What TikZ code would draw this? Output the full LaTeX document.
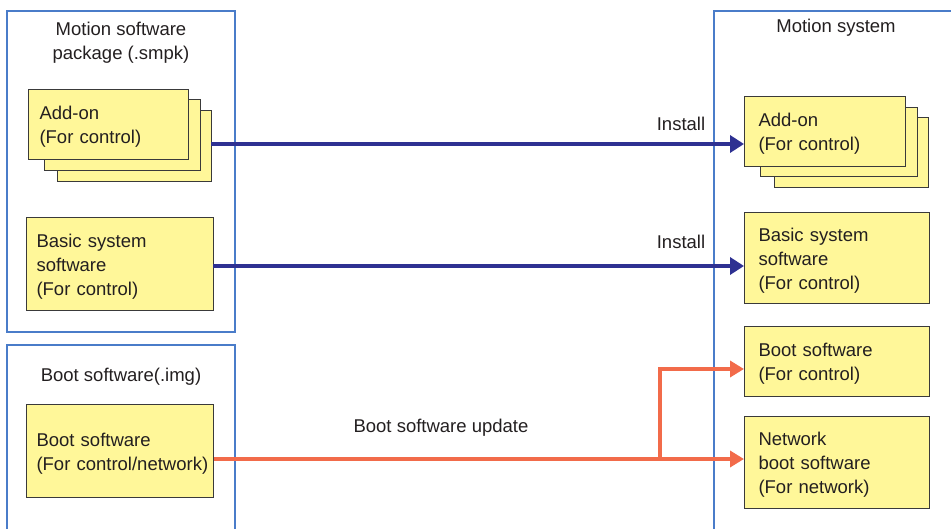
\documentclass[tikz,border=0pt]{standalone}
\usepackage{fontspec}
\setmainfont{Liberation Sans}
\usetikzlibrary{arrows.meta}
\definecolor{yfill}{HTML}{FFF799}
\definecolor{boxgray}{HTML}{3A3A3A}
\definecolor{contblue}{HTML}{4A7CC9}
\definecolor{arrblue}{HTML}{2E3192}
\definecolor{arrorange}{HTML}{F26B4A}
\definecolor{txt}{HTML}{231F20}
\begin{document}
\begin{tikzpicture}[x=1pt,y=-1pt,
  every node/.style={font=\fontsize{18.5}{24}\selectfont, text=txt},
  container/.style={draw=contblue, line width=1.6pt},
  ybox/.style={draw=boxgray, fill=yfill, line width=1pt, align=left, anchor=north west, inner ysep=0pt,
    execute at begin node={\rule{0pt}{18.5pt}}},
  bluearrow/.style={draw=arrblue, line width=4.5pt, -{Triangle[length=14pt,width=17pt]}},
  orangearrow/.style={draw=arrorange, line width=4.5pt, -{Triangle[length=14pt,width=16pt]}},
  lbl/.style={inner sep=0pt}
]
\useasboundingbox (0,0) rectangle (951,529);
% containers
\draw[container] (7,11) rectangle (235,332);
\draw[container] (7,529) |- (235,345) -- (235,529);
\draw[container] (714,529) |- (960,11);
\node[lbl, align=center] (tpkg) at (121,43) {Motion software\\package (.smpk)};
\node[lbl] (tboot) at (121,377) {Boot software(.img)};
\node[lbl] (tsys) at (836,28) {Motion system};
% left boxes
\node[ybox, inner xsep=11pt, text width=132pt, minimum height=71pt] (addL3) at (57,110) {};
\node[ybox, inner xsep=11pt, text width=134pt, minimum height=71pt] (addL2) at (44,99) {};
\node[ybox, inner xsep=11pt, text width=138pt, minimum height=70pt] (addL1) at (28,89) {Add-on\\(For control)};
\node[ybox, inner xsep=10pt, text width=167pt, minimum height=93pt] (basL) at (26,217) {Basic system\\software\\(For control)};
\node[ybox, inner xsep=10pt, text width=167pt, minimum height=93pt] (bootL) at (26,404) {Boot software\\\mbox{(For control/network)}};
% right boxes
\node[ybox, inner xsep=14pt, text width=126pt, minimum height=70pt] (addR3) at (774,117) {};
\node[ybox, inner xsep=14pt, text width=129pt, minimum height=69pt] (addR2) at (760,107) {};
\node[ybox, inner xsep=14pt, text width=133pt, minimum height=70pt] (addR1) at (744,96) {Add-on\\(For control)};
\node[ybox, inner xsep=14pt, text width=157pt, minimum height=91pt] (basR) at (744,212) {Basic system\\software\\(For control)};
\node[ybox, inner xsep=14pt, text width=157pt, minimum height=70pt] (bootR) at (744,326) {Boot software\\(For control)};
\node[ybox, inner xsep=14pt, text width=157pt, minimum height=92pt] (netR) at (744,416) {Network\\boot software\\(For network)};
% connectors
\coordinate (a1) at (211,144);
\draw[bluearrow] (a1) -- (a1 -| addR1.west);
\coordinate (a2) at (213,266);
\draw[bluearrow] (a2) -- (a2 -| basR.west);
\coordinate (br) at (660,459);
\coordinate (bt) at (660,369);
\draw[draw=arrorange, line width=4.5pt] (bootL.east |- br) -- (br);
\draw[orangearrow] (br) -- (br -| netR.west);
\draw[orangearrow] (br) -- (bt) -- (bt -| bootR.west);
% labels
\node[lbl] (inst1) at (681,124) {Install};
\node[lbl] (inst2) at (681,242) {Install};
\node[lbl] (upd) at (441,428) {Boot software update};
\end{tikzpicture}
\end{document}
